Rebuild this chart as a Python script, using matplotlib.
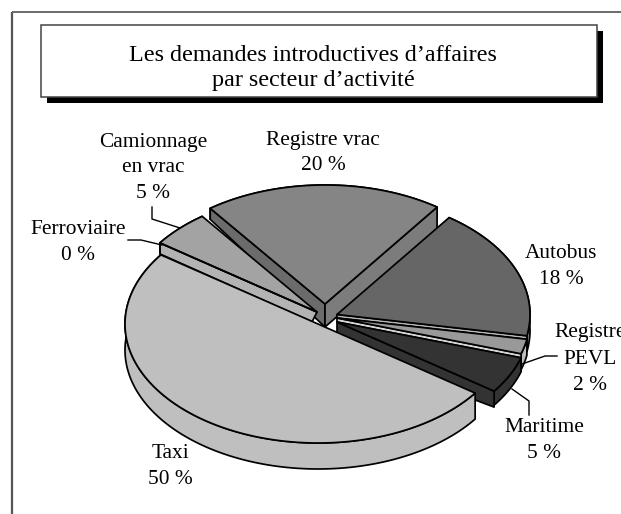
import numpy as np
import matplotlib
matplotlib.use("Agg")
import matplotlib.pyplot as plt
from matplotlib.patches import Polygon, Rectangle

plt.rcParams['font.family'] = ['Liberation Serif', 'DejaVu Serif']

# --- data ---
sectors = ["Taxi", "Ferroviaire", "Camionnage\nen vrac", "Registre vrac", "Autobus", "Registre\nPEVL", "Maritime"]
values = [50, 0, 5, 20, 18, 2, 5]
title_lines = ["Les demandes introductives d’affaires", "par secteur d’activité"]

# --- style ---
top_colors = ["#bfbfbf", "#b0b0b0", "#a3a3a3", "#858585", "#666666", "#999999", "#333333"]
rim_colors = ["#bfbfbf", "#b0b0b0", "#b3b3b3", "#6b6b6b", "#8a8a8a", "#bbbbbb", "#333333"]
apexes = [(318, 324), (317, 312), (317, 312), (325, 304), (337, 314.5), (337, 318), (337, 322)]
rim_depth = [26, 11, 11, 11, 16, 16, 14]
# each face: (depth at apex, depth at rim, edge 0 start / 1 end, x shift at apex, colour)
faces = [[], [],
         [(10, 11, 0, -5, "#b3b3b3")],
         [(23, 11, 0, 0, "#6b6b6b"), (23, 23, 1, 0, "#7c7c7c")],
         [(3.5, 3.5, 1, 0, "#b5b5b5")],
         [(4, 4, 1, 0, "#d5d5d5")],
         [(26, 16, 1, 0, "#333333")]]
draw_order = [3, 2, 1, 4, 5, 6, 0]
START_ANGLE = -35.5
A, B = 193, 119
label_pos = [(170, 466), (78, 243), (153, 168), (323, 153), (561, 266), (590, 359), (544, 441)]
LW = 1.25

fig = plt.figure(figsize=(6.21, 5.14), dpi=100)
ax = fig.add_axes([0, 0, 1, 1])
ax.set_xlim(0, 621)
ax.set_ylim(514, 0)
ax.axis("off")

# outer frame (left and top only)
ax.plot([11.5, 11.5], [514, 11.5], color="#555555", lw=1.6, zorder=1, solid_capstyle="butt")
ax.plot([11.5, 621], [11.5, 11.5], color="#606060", lw=1.3, zorder=1, solid_capstyle="butt")

# title box with drop shadow
ax.add_patch(Rectangle((47, 31), 556, 72, fc="black", ec="none", zorder=2))
ax.add_patch(Rectangle((41, 25), 556, 72, fc="white", ec="#444444", lw=1.1, zorder=3))
ax.text(313, 55.5, title_lines[0], ha="center", va="center", fontsize=17.4, zorder=4)
ax.text(313, 80.5, title_lines[1], ha="center", va="center", fontsize=17.4, zorder=4)

# wedge angles come from the values, clockwise from the start angle
cum = np.cumsum([0] + values) / sum(values) * 360.0
t0 = START_ANGLE - cum[:-1]
t1 = START_ANGLE - cum[1:]


def arc(c, a0, a1, dy=0.0, n=120):
    t = np.radians(np.linspace(a0, a1, n))
    return np.column_stack([c[0] + A * np.cos(t), c[1] - B * np.sin(t) + dy])


z = 10
for i in draw_order:
    c = apexes[i]
    d = rim_depth[i]
    top = arc(c, t0[i], t1[i])
    # rim
    z += 1
    rim = np.vstack([top, arc(c, t0[i], t1[i], d)[::-1]])
    ax.add_patch(Polygon(rim, closed=True, fc=rim_colors[i], ec="black", lw=LW, joinstyle="round", zorder=z))
    # straight faces
    for da, dr, which, dx, col in faces[i]:
        corner = top[0] if which == 0 else top[-1]
        quad = [c, corner, (corner[0], corner[1] + dr), (c[0] + dx, c[1] + da)]
        z += 1
        ax.add_patch(Polygon(quad, closed=True, fc=col, ec="black", lw=LW, joinstyle="round", zorder=z))
    # top
    z += 1
    ax.add_patch(Polygon(np.vstack([[c], top]), closed=True, fc=top_colors[i], ec="black", lw=LW, joinstyle="round", zorder=z))

# leader lines
leaders = {
    1: [(128, 240), (141, 240), (162, 245)],
    2: [(152, 207), (152, 219), (180, 228)],
    5: [(557, 356), (545, 356), (522, 364)],
    6: [(512, 389), (529, 401), (529, 415)],
}
for i, pts in leaders.items():
    xs, ys = zip(*pts)
    ax.plot(xs, ys, color="black", lw=1.0, zorder=50)

# labels
for name, val, (x, y) in zip(sectors, values, label_pos):
    ax.text(x, y, f"{name}\n{val} %", ha="center", va="center", fontsize=15.4,
            linespacing=1.5, zorder=60)

fig.savefig("out.png", dpi=100)
